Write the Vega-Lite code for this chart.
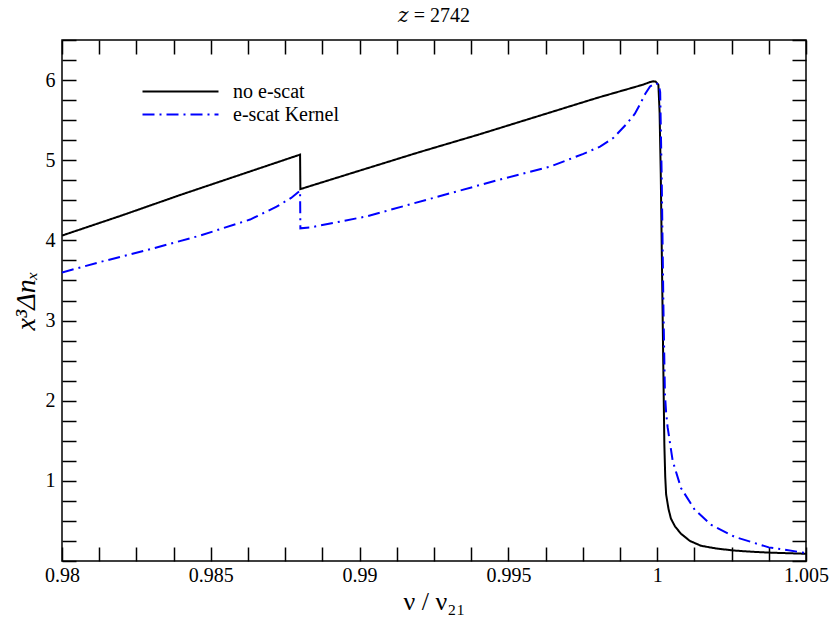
{
  "$schema": "https://vega.github.io/schema/vega-lite/v6.json",
  "width": 744,
  "height": 521,
  "autosize": {"type": "none"},
  "padding": {"left": 62, "top": 40, "right": 24, "bottom": 56},
  "background": "white",
  "title": {"text": "𝑧 = 2742", "font": "Liberation Serif, Times New Roman, DejaVu Serif, serif", "fontSize": 20, "fontWeight": "normal", "anchor": "middle", "offset": 4, "color": "black"},
  "config": {
    "view": {"stroke": "black", "strokeWidth": 1.5},
    "font": "Liberation Serif, Times New Roman, DejaVu Serif, serif",
    "axis": {"domain": false, "grid": false, "labelFont": "Liberation Serif, Times New Roman, DejaVu Serif, serif", "labelFontSize": 20, "labelColor": "black", "tickColor": "black", "tickWidth": 1.5, "labelFlush": false, "labelOverlap": false, "labelBound": false, "titleFont": "Liberation Serif, Times New Roman, DejaVu Serif, serif", "titleFontSize": 20, "titleFontWeight": "normal", "titleColor": "black"}
  },
  "data": {"values": [
    {"nu": 0.98, "v": 4.06, "series": "no e-scat"},
    {"nu": 0.982, "v": 4.31, "series": "no e-scat"},
    {"nu": 0.984, "v": 4.57, "series": "no e-scat"},
    {"nu": 0.986, "v": 4.82, "series": "no e-scat"},
    {"nu": 0.988, "v": 5.07, "series": "no e-scat"},
    {"nu": 0.98801, "v": 4.64, "series": "no e-scat"},
    {"nu": 0.99, "v": 4.87, "series": "no e-scat"},
    {"nu": 0.992, "v": 5.1, "series": "no e-scat"},
    {"nu": 0.994, "v": 5.32, "series": "no e-scat"},
    {"nu": 0.996, "v": 5.55, "series": "no e-scat"},
    {"nu": 0.998, "v": 5.78, "series": "no e-scat"},
    {"nu": 0.9995, "v": 5.94, "series": "no e-scat"},
    {"nu": 0.99976, "v": 5.975, "series": "no e-scat"},
    {"nu": 0.99987, "v": 5.985, "series": "no e-scat"},
    {"nu": 0.99995, "v": 5.98, "series": "no e-scat"},
    {"nu": 1.00004, "v": 5.94, "series": "no e-scat"},
    {"nu": 1.00008, "v": 5.6, "series": "no e-scat"},
    {"nu": 1.00012, "v": 4.82, "series": "no e-scat"},
    {"nu": 1.00018, "v": 3.14, "series": "no e-scat"},
    {"nu": 1.00024, "v": 1.46, "series": "no e-scat"},
    {"nu": 1.00027, "v": 1.05, "series": "no e-scat"},
    {"nu": 1.0003, "v": 0.83, "series": "no e-scat"},
    {"nu": 1.00038, "v": 0.65, "series": "no e-scat"},
    {"nu": 1.00046, "v": 0.53, "series": "no e-scat"},
    {"nu": 1.0006, "v": 0.43, "series": "no e-scat"},
    {"nu": 1.0008, "v": 0.34, "series": "no e-scat"},
    {"nu": 1.0011, "v": 0.25, "series": "no e-scat"},
    {"nu": 1.00147, "v": 0.19, "series": "no e-scat"},
    {"nu": 1.002, "v": 0.155, "series": "no e-scat"},
    {"nu": 1.0026, "v": 0.13, "series": "no e-scat"},
    {"nu": 1.0032, "v": 0.115, "series": "no e-scat"},
    {"nu": 1.00376, "v": 0.105, "series": "no e-scat"},
    {"nu": 1.0044, "v": 0.097, "series": "no e-scat"},
    {"nu": 1.005, "v": 0.09, "series": "no e-scat"},
    {"nu": 0.98, "v": 3.6, "series": "e-scat Kernel"},
    {"nu": 0.98128, "v": 3.73, "series": "e-scat Kernel"},
    {"nu": 0.98296, "v": 3.89, "series": "e-scat Kernel"},
    {"nu": 0.98464, "v": 4.06, "series": "e-scat Kernel"},
    {"nu": 0.98632, "v": 4.26, "series": "e-scat Kernel"},
    {"nu": 0.98721, "v": 4.42, "series": "e-scat Kernel"},
    {"nu": 0.9877, "v": 4.53, "series": "e-scat Kernel"},
    {"nu": 0.988, "v": 4.62, "series": "e-scat Kernel"},
    {"nu": 0.98801, "v": 4.15, "series": "e-scat Kernel"},
    {"nu": 0.98833, "v": 4.16, "series": "e-scat Kernel"},
    {"nu": 0.99024, "v": 4.3, "series": "e-scat Kernel"},
    {"nu": 0.99248, "v": 4.53, "series": "e-scat Kernel"},
    {"nu": 0.99472, "v": 4.76, "series": "e-scat Kernel"},
    {"nu": 0.9964, "v": 4.92, "series": "e-scat Kernel"},
    {"nu": 0.99752, "v": 5.08, "series": "e-scat Kernel"},
    {"nu": 0.99808, "v": 5.17, "series": "e-scat Kernel"},
    {"nu": 0.99853, "v": 5.28, "series": "e-scat Kernel"},
    {"nu": 0.99899, "v": 5.46, "series": "e-scat Kernel"},
    {"nu": 0.99925, "v": 5.58, "series": "e-scat Kernel"},
    {"nu": 0.99944, "v": 5.71, "series": "e-scat Kernel"},
    {"nu": 0.9996, "v": 5.83, "series": "e-scat Kernel"},
    {"nu": 0.99976, "v": 5.92, "series": "e-scat Kernel"},
    {"nu": 0.99993, "v": 5.96, "series": "e-scat Kernel"},
    {"nu": 1.00005, "v": 5.95, "series": "e-scat Kernel"},
    {"nu": 1.0001, "v": 5.85, "series": "e-scat Kernel"},
    {"nu": 1.00015, "v": 4.82, "series": "e-scat Kernel"},
    {"nu": 1.00021, "v": 3.14, "series": "e-scat Kernel"},
    {"nu": 1.00026, "v": 2.08, "series": "e-scat Kernel"},
    {"nu": 1.0003, "v": 1.85, "series": "e-scat Kernel"},
    {"nu": 1.00035, "v": 1.67, "series": "e-scat Kernel"},
    {"nu": 1.00052, "v": 1.25, "series": "e-scat Kernel"},
    {"nu": 1.0008, "v": 0.91, "series": "e-scat Kernel"},
    {"nu": 1.00126, "v": 0.64, "series": "e-scat Kernel"},
    {"nu": 1.00182, "v": 0.45, "series": "e-scat Kernel"},
    {"nu": 1.00261, "v": 0.3, "series": "e-scat Kernel"},
    {"nu": 1.00375, "v": 0.17, "series": "e-scat Kernel"},
    {"nu": 1.005, "v": 0.1, "series": "e-scat Kernel"}
  ]},
  "layer": [
    {
      "mark": {"type": "line", "strokeWidth": 2, "clip": true},
      "encoding": {
        "x": {"field": "nu", "type": "quantitative", "scale": {"domain": [0.98, 1.005], "nice": false, "zero": false},
          "axis": {"orient": "bottom", "title": "ν / ν₂₁", "titlePadding": 3, "titleFontSize": 26, "labelFontSize": 20,
            "values": [0.98, 0.98125, 0.9825, 0.98375, 0.985, 0.98625, 0.9875, 0.98875, 0.99, 0.99125, 0.9925, 0.99375, 0.995, 0.99625, 0.9975, 0.99875, 1, 1.00125, 1.0025, 1.00375, 1.005],
            "tickSize": -14, "labelPadding": 18,
            "labelExpr": "abs(datum.value*200-round(datum.value*200))<1e-6 ? toString(datum.value) : ''",
            "encode": {"ticks": {"update": {"y2": {"signal": "abs(datum.value*200-round(datum.value*200))<1e-6 ? -14 : -7.5"}}}}}},
        "y": {"field": "v", "type": "quantitative", "scale": {"domain": [0, 6.5], "nice": false, "zero": false},
          "axis": {"orient": "left", "title": "x³Δnₓ", "titleFontStyle": "italic", "titlePadding": 5, "titleFontSize": 28, "labelFontSize": 20,
            "values": [0, 0.25, 0.5, 0.75, 1, 1.25, 1.5, 1.75, 2, 2.25, 2.5, 2.75, 3, 3.25, 3.5, 3.75, 4, 4.25, 4.5, 4.75, 5, 5.25, 5.5, 5.75, 6, 6.25, 6.5],
            "tickSize": -14, "labelPadding": 21,
            "labelExpr": "abs(datum.value-round(datum.value))<1e-6 && datum.value>0 ? toString(datum.value) : ''",
            "encode": {"ticks": {"update": {"x2": {"signal": "abs(datum.value-round(datum.value))<1e-6 ? 14 : 7.5"}}}}}},
        "color": {"field": "series", "type": "nominal", "scale": {"domain": ["no e-scat", "e-scat Kernel"], "range": ["black", "#0000ff"]},
          "legend": {"orient": "none", "legendX": 108, "legendY": 41, "title": null, "symbolType": "M-4,0H4", "symbolSize": 361, "symbolStrokeWidth": 2, "labelFontSize": 20, "labelFont": "Liberation Serif, Times New Roman, DejaVu Serif, serif", "labelColor": "black", "labelOffset": 42, "rowPadding": 2, "padding": 0}},
        "strokeDash": {"field": "series", "type": "nominal", "scale": {"domain": ["no e-scat", "e-scat Kernel"], "range": [[1, 0], [12, 5, 2, 5]]}, "legend": {"orient": "none", "legendX": 108, "legendY": 41, "title": null, "symbolType": "M-4,0H4", "symbolSize": 361, "symbolStrokeWidth": 2, "labelFontSize": 20, "labelFont": "Liberation Serif, Times New Roman, DejaVu Serif, serif", "labelColor": "black", "labelOffset": 42, "rowPadding": 2, "padding": 0}}
      }
    },
    {
      "mark": {"type": "line", "strokeOpacity": 0},
      "encoding": {
        "x": {"field": "nu", "type": "quantitative",
          "axis": {"orient": "top", "title": null, "labels": false,
            "values": [0.98, 0.98125, 0.9825, 0.98375, 0.985, 0.98625, 0.9875, 0.98875, 0.99, 0.99125, 0.9925, 0.99375, 0.995, 0.99625, 0.9975, 0.99875, 1, 1.00125, 1.0025, 1.00375, 1.005],
            "tickSize": -14,
            "encode": {"ticks": {"update": {"y2": {"signal": "abs(datum.value*200-round(datum.value*200))<1e-6 ? 14 : 7.5"}}}}}},
        "y": {"field": "v", "type": "quantitative",
          "axis": {"orient": "right", "title": null, "labels": false,
            "values": [0, 0.25, 0.5, 0.75, 1, 1.25, 1.5, 1.75, 2, 2.25, 2.5, 2.75, 3, 3.25, 3.5, 3.75, 4, 4.25, 4.5, 4.75, 5, 5.25, 5.5, 5.75, 6, 6.25, 6.5],
            "tickSize": -14,
            "encode": {"ticks": {"update": {"x2": {"signal": "abs(datum.value-round(datum.value))<1e-6 ? -14 : -7.5"}}}}}},
        "detail": {"field": "series", "type": "nominal"}
      }
    }
  ],
  "resolve": {"axis": {"x": "independent", "y": "independent"}}
}
